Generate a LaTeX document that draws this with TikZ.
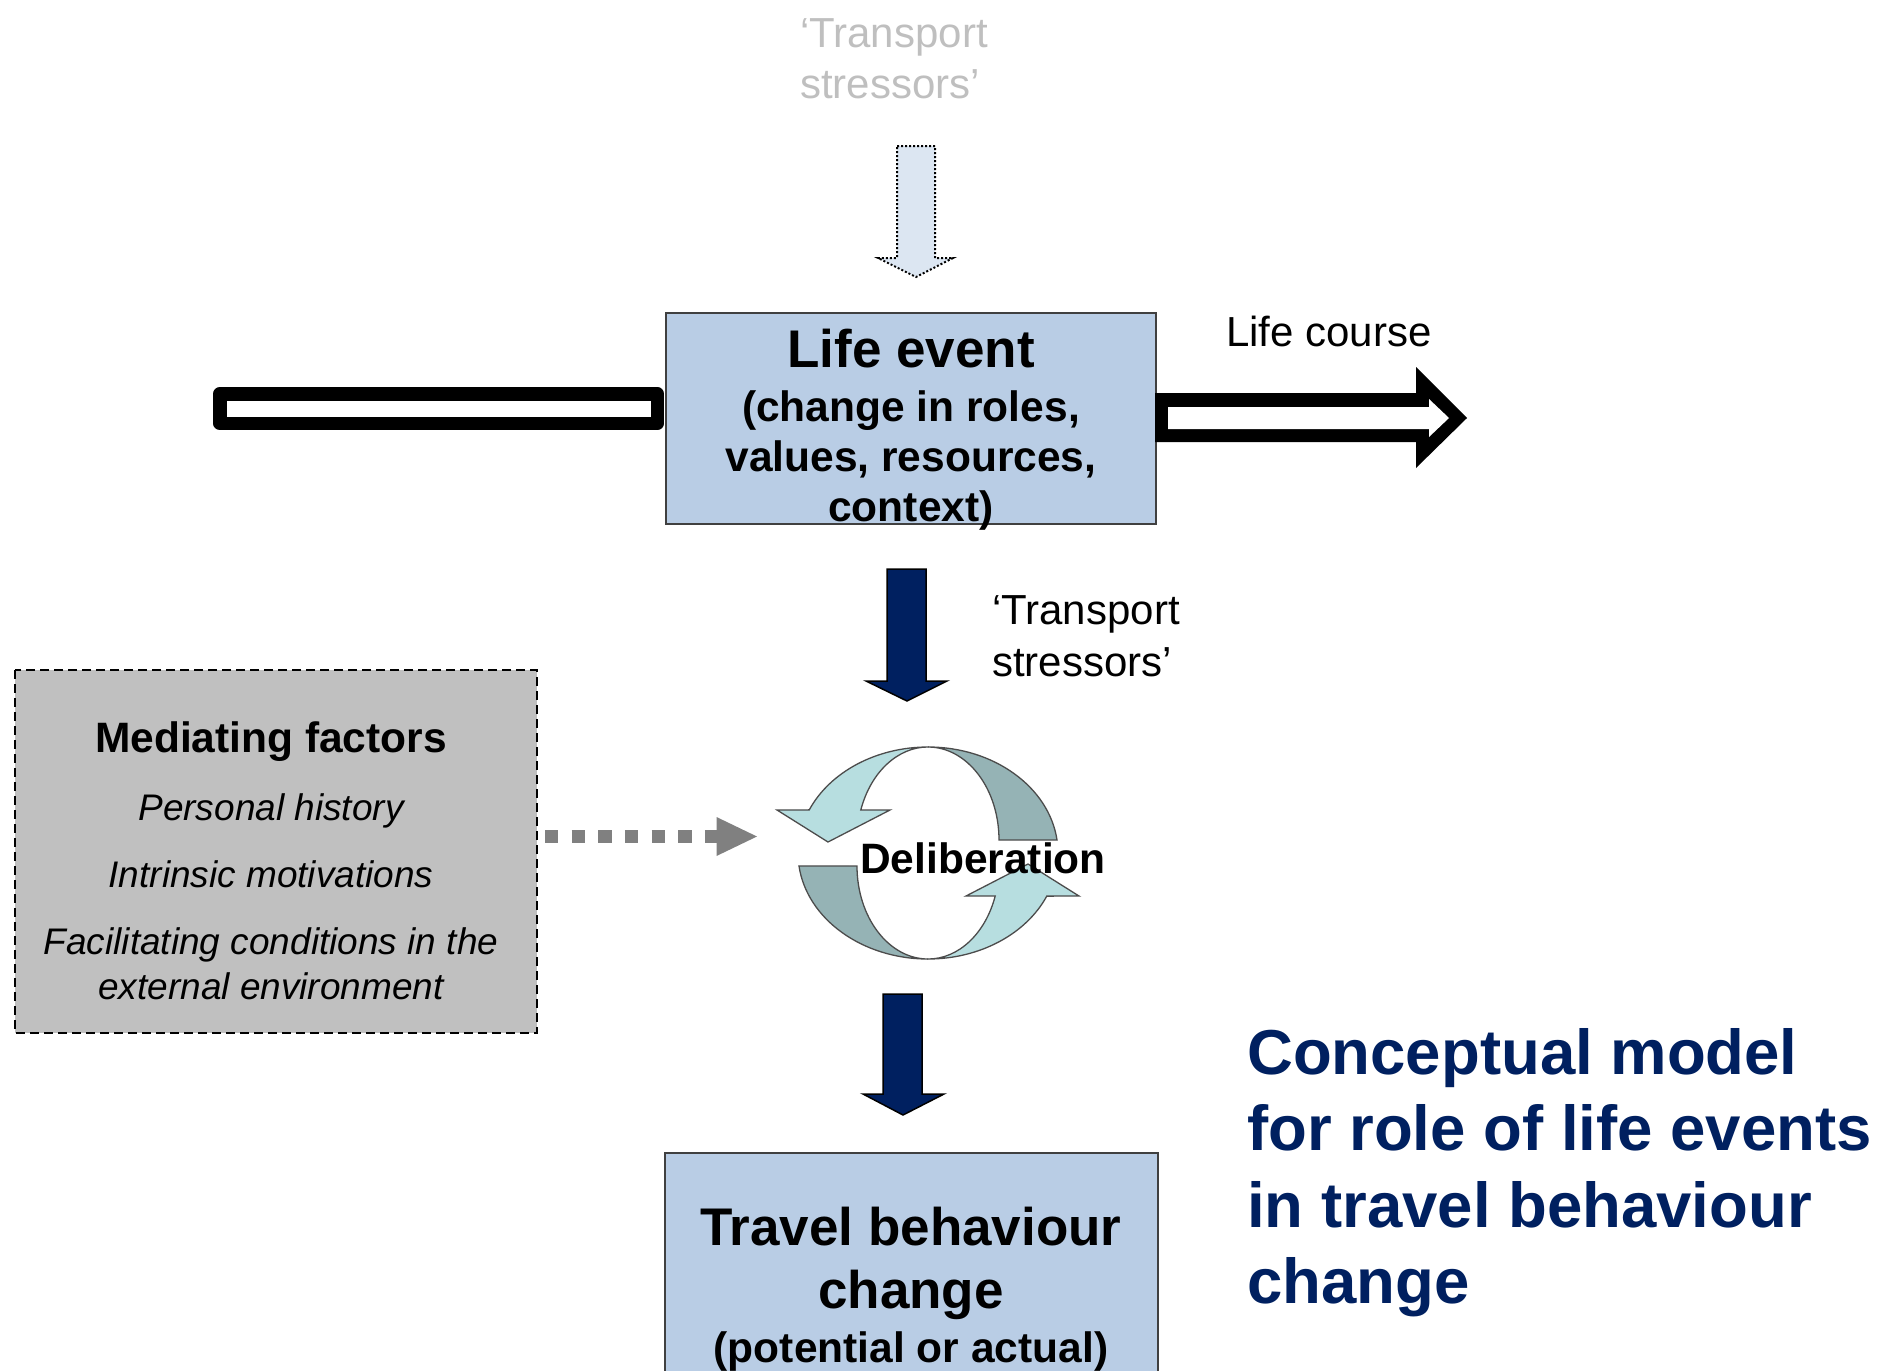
\documentclass[tikz,border=0pt]{standalone}
\usepackage{fontspec}
\setmainfont{Liberation Sans}
\definecolor{boxblue}{HTML}{B9CDE5}
\definecolor{navy}{HTML}{002060}
\definecolor{paleblue}{HTML}{DCE6F2}
\definecolor{medgray}{HTML}{C0C0C0}
\definecolor{arrowgray}{HTML}{808080}
\definecolor{softgray}{HTML}{BFBFBF}
\definecolor{cyclight}{HTML}{B7DEE0}
\definecolor{cycdark}{HTML}{95B3B5}
\tikzset{
  bluebox/.style={draw=black!75, line width=1.6pt, fill=boxblue, inner sep=0pt},
  bigbold/.style={font=\fontsize{53}{60}\selectfont\bfseries, inner sep=0pt, anchor=base},
  midbold/.style={font=\fontsize{42.5}{50}\selectfont\bfseries, inner sep=0pt, anchor=base},
  plaintext/.style={font=\fontsize{42}{52}\selectfont, inner sep=0pt, anchor=base west},
  factor/.style={font=\fontsize{37}{45}\selectfont\itshape, inner sep=0pt, anchor=base},
  titleline/.style={font=\fontsize{63.5}{77}\selectfont\bfseries, text=navy, inner sep=0pt, anchor=base west},
  navyarrow/.style={fill=navy, draw=black, line width=1.5pt, line join=miter},
  ribbonlight/.style={fill=cyclight, draw=black!70, line width=1.3pt},
  ribbondark/.style={fill=cycdark, draw=black!70, line width=1.3pt},
}
\begin{document}
\begin{tikzpicture}[x=1pt,y=1pt]
\useasboundingbox (0,0) rectangle (1883,-1371);
\clip (0,0) rectangle (1883,-1371);

% incoming stressors, drawn faint
\node[plaintext, text=softgray] (topA) at (800,-47) {‘Transport};
\node[plaintext, text=softgray] (topB) at (800,-98) {stressors’};
\draw[fill=paleblue, draw=black, line width=2pt, dotted]
  (897,-146) -- (935,-146) -- (935,-258) -- (953,-258) -- (916,-277)
  -- (878,-258) -- (897,-258) -- cycle;

% life event box
\node[bluebox, minimum width=490pt, minimum height=211pt] (life) at (911,-418.5) {};
\node[bigbold] (lifeT) at (911,-367) {Life event};
\node[midbold] (lifeA) at (911,-421) {(change in roles,};
\node[midbold] (lifeB) at (911,-471) {values, resources,};
\node[midbold] (lifeC) at (911,-521) {context)};

% life course bar (past) and arrow (future)
\draw[line width=13.5pt, line join=round, fill=white]
  (219.75,-393.75) rectangle (657.25,-423.25);
\fill[black] (1155,-393) -- (1416,-393) -- (1416,-367) -- (1467,-418)
  -- (1416,-468) -- (1416,-442) -- (1155,-442) -- cycle;
\fill[white] (1168,-407) -- (1429,-407) -- (1429,-399) -- (1449,-418)
  -- (1429,-437) -- (1429,-429) -- (1168,-429) -- cycle;
\node[plaintext] (course) at (1226,-346) {Life course};

% stressors arrow
\draw[navyarrow] (887,-569) -- (926,-569) -- (926,-681) -- (947,-681)
  -- (907,-701) -- (866,-681) -- (887,-681) -- cycle;
\node[plaintext] (strA) at (992,-624) {‘Transport};
\node[plaintext] (strB) at (992,-676) {stressors’};

% mediating factors
\draw[fill=medgray, draw=black, line width=2pt, dash pattern=on 9pt off 5pt]
  (15,-670) rectangle (537,-1033);
\node[midbold] (medT) at (271,-752) {Mediating factors};
\node[factor] (medA) at (271,-820) {Personal history};
\node[factor] (medB) at (271,-887) {Intrinsic motivations};
\node[factor] (medC) at (271,-954) {Facilitating conditions in the};
\node[factor] (medD) at (271,-999) {external environment};
\draw[arrowgray, line width=13pt, dash pattern=on 13.33pt off 13.33pt]
  (545,-836.5) -- (718.3,-836.5);
\fill[arrowgray] (716.5,-817) -- (757,-836.5) -- (716.5,-856) -- cycle;

% deliberation cycle: two twisted ribbon arrows
\begin{scope}[shift={(928,-853)}]
  \foreach \turn in {0,180}{
    \begin{scope}[rotate=\turn]
      \draw[ribbondark] (0,106)
        arc[start angle=90, end angle=7, x radius=130pt, y radius=106pt]
        -- (71,13)
        arc[start angle=0, end angle=90, x radius=71pt, y radius=93pt] -- cycle;
      \draw[ribbonlight] (0,106)
        arc[start angle=90, end angle=156, x radius=130pt, y radius=106pt]
        -- (-151,43) -- (-100,11) -- (-38,43) -- (-67.2,43)
        arc[start angle=161.2, end angle=90, x radius=71pt, y radius=93pt] -- cycle;
    \end{scope}
  }
\end{scope}
\node[midbold, anchor=base west] (delib) at (860,-873) {Deliberation};

% outcome arrow
\draw[navyarrow] (883,-994) -- (922,-994) -- (922,-1094) -- (944,-1094)
  -- (903,-1115) -- (863,-1094) -- (883,-1094) -- cycle;

% travel behaviour box
\draw[draw=black!75, line width=1.6pt, fill=boxblue]
  (665,-1153) rectangle (1158,-1400);
\node[bigbold] (travT) at (911,-1245) {Travel behaviour};
\node[bigbold] (travA) at (911,-1308.5) {change};
\node[midbold] (travB) at (911,-1362.5) {(potential or actual)};

% title
\node[titleline] (ttlA) at (1247,-1074) {Conceptual model};
\node[titleline] (ttlB) at (1247,-1150) {for role of life events};
\node[titleline] (ttlC) at (1247,-1227) {in travel behaviour};
\node[titleline] (ttlD) at (1247,-1303) {change};
\end{tikzpicture}
\end{document}
